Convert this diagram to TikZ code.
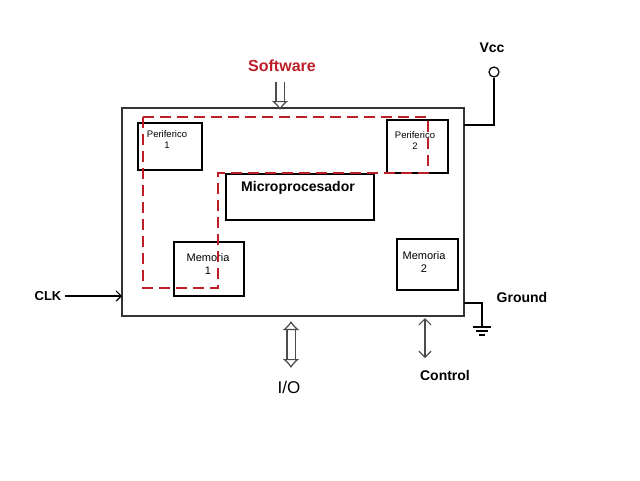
\documentclass[tikz,border=0pt]{standalone}
\usepackage{fontspec}
\setmainfont{Liberation Sans}
\usetikzlibrary{arrows.meta}
\definecolor{dred}{RGB}{190,30,40}
\begin{document}
\begin{tikzpicture}[x=1pt,y=-1pt,
  blk/.style={draw,line width=1.6pt,inner sep=0pt},
  lbl/.style={font=\fontsize{9.5}{11}\selectfont,align=center},
  hollow/.style={double,double distance=7pt,line width=1.2pt,draw=black!70}]
\useasboundingbox (0,0) rectangle (640,480);
\node[blk,draw=black!80,minimum width=342pt,minimum height=208pt] (main) at (293,212) {};
\node[blk,minimum width=64pt,minimum height=47pt] (p1) at (170,146.5) {};
\node[lbl] at (167,140) {Periferico\\1};
\node[blk,minimum width=61pt,minimum height=53pt] (p2) at (417.5,146.5) {};
\node[lbl] at (415,141) {Periferico\\2};
\node[blk,minimum width=148pt,minimum height=46pt] (mp) at (300,197) {};
\node[font=\bfseries\fontsize{14}{15}\selectfont] at (298,188) {Microprocesador};
\node[blk,minimum width=70pt,minimum height=54pt] (m1) at (209,269) {};
\node[lbl,font=\fontsize{11}{13}\selectfont] at (208,264) {Memoria\\1};
\node[blk,minimum width=61pt,minimum height=51pt] (m2) at (427.5,264.5) {};
\node[lbl,font=\fontsize{11}{13}\selectfont] at (424,262) {Memoria\\2};
\draw[dred,line width=2pt,dash pattern=on 11pt off 6pt]
  (143,117) -- (428,117) -- (428,173) -- (218,173) -- (218,288) -- (143,288) -- cycle;
\node[dred,font=\bfseries\fontsize{16}{18}\selectfont] (sw) at (282,66) {Software};
\coordinate (swtip) at (280,110);
\draw[hollow,-{Latex[open,length=9pt,width=17pt]}] (280,82) -- (swtip);
% Vcc
\node[draw,circle,inner sep=0pt,minimum size=10pt,line width=1.2pt] (vc) at (494,72) {};
\node[font=\bfseries\fontsize{14}{15}\selectfont] at (492,48) {Vcc};
\draw[line width=1.4pt] (464,125) -- (494,125) -- (vc.south);
% Ground
\draw[line width=1.4pt] (464,303) -- (482,303) -- (482,327);
\draw[line width=1.4pt] (473,327) -- (491,327) (476,331) -- (488,331) (479,335) -- (485,335);
\node[font=\bfseries\fontsize{14}{15}\selectfont] at (522,297) {Ground};
% CLK
\node[font=\bfseries\fontsize{13}{14}\selectfont] (clk) at (48,296) {CLK};
\draw[-{Straight Barb[length=5pt]},line width=1.1pt] (clk.east) -- (122,296);
% I/O
\node[font=\fontsize{17}{18}\selectfont] (io) at (289,387) {I/O};
\draw[hollow,{Latex[open,length=9pt,width=17pt]}-{Latex[open,length=9pt,width=17pt]}] (291,321) -- (291,368);
% Control
\node[font=\bfseries\fontsize{14}{15}\selectfont] (ctl) at (445,375) {Control};
\draw[{Straight Barb[length=6pt]}-{Straight Barb[length=6pt]},line width=1.2pt,black!70] (425,318) -- (425,358);
\end{tikzpicture}
\end{document}
